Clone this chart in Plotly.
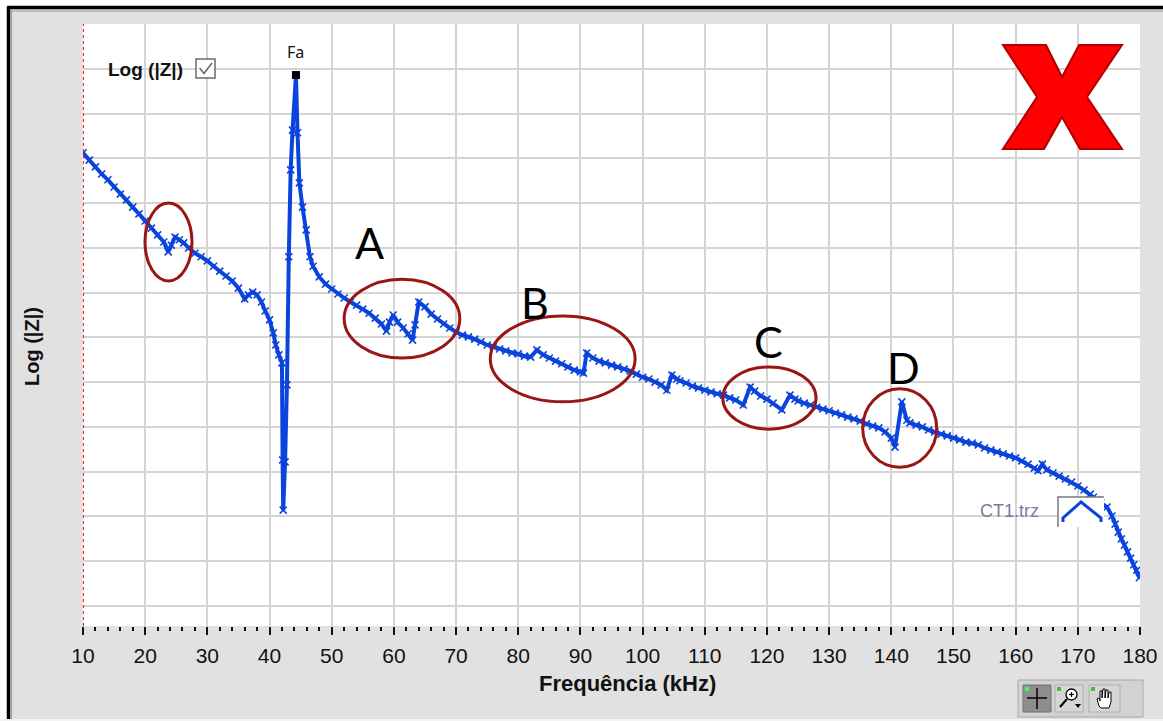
import plotly.graph_objects as go

# ---------------- data ----------------
freq_khz = [10.0, 11, 12, 13, 14, 15, 16, 17, 18, 19, 20, 21, 22, 23, 23.7, 24.2, 24.8, 25.5, 26.2,
            27, 28, 29, 30, 31, 32, 33, 34, 35, 36.0, 36.6, 37.3, 38.0, 38.7, 39.3, 40.0, 40.6, 41.0,
            41.5, 42.0, 42.1, 42.2, 42.5, 42.8, 43.1, 43.4, 43.7, 44.25, 44.5, 44.8, 45.3, 45.9, 46.5,
            47, 48, 49, 50, 51, 52, 53, 54, 55, 56, 57, 58, 58.8, 59.3, 59.9, 60.6, 61.5, 62.3, 63.0,
            63.4, 64.0, 65, 66, 67, 68, 69, 70, 71, 72, 73, 74, 75, 76, 77, 78, 79, 80, 81, 82, 83,
            84, 85, 86, 87, 88, 89, 90, 90.5, 91.0, 92, 93, 94, 95, 96, 97, 98, 99, 100, 101, 102,
            103, 103.9, 104.7, 105.5, 106, 107, 108, 109, 110, 111, 112, 113, 114, 115, 116.2, 117.3,
            118, 119, 120, 121, 122.4, 123.7, 124.5, 125, 126, 127, 128, 129, 130, 131, 132, 133,
            134, 135, 136, 137, 138, 139, 140, 140.6, 141.7, 142.5, 143, 144, 145, 146, 147, 148,
            149, 150, 151, 152, 153, 154, 155, 156, 157, 158, 159, 160, 161, 162, 163, 163.6, 164.3,
            165, 166, 167, 168, 169, 170, 171, 172, 172.5, 173, 173.7, 174.7, 175.5, 176, 176.5,
            177, 177.5, 178, 178.5, 179, 179.5, 179.9]

log_z = [10.12, 9.96, 9.81, 9.65, 9.52, 9.36, 9.20, 9.07, 8.91, 8.76, 8.60, 8.44, 8.29, 8.13, 7.91,
         8.06, 8.24, 8.18, 8.11, 8.00, 7.88, 7.80, 7.71, 7.59, 7.48, 7.37, 7.26, 7.10, 6.86, 6.95,
         7.01, 6.95, 6.79, 6.59, 6.39, 6.10, 5.83, 5.61, 5.43, 3.26, 2.14, 3.22, 4.94, 7.80, 9.74,
         10.63, 11.86, 10.57, 9.45, 8.91, 8.40, 7.80, 7.59, 7.35, 7.19, 7.08, 6.97, 6.88, 6.79,
         6.72, 6.63, 6.54, 6.43, 6.30, 6.14, 6.34, 6.50, 6.34, 6.21, 6.08, 5.94, 6.28, 6.79, 6.68,
         6.52, 6.41, 6.30, 6.21, 6.12, 6.05, 6.01, 5.96, 5.90, 5.83, 5.79, 5.74, 5.70, 5.65, 5.63,
         5.58, 5.56, 5.72, 5.61, 5.54, 5.47, 5.41, 5.34, 5.27, 5.23, 5.20, 5.65, 5.54, 5.47, 5.43,
         5.38, 5.34, 5.29, 5.25, 5.18, 5.11, 5.07, 5.00, 4.94, 4.82, 5.16, 5.07, 5.03, 4.98, 4.91,
         4.87, 4.82, 4.78, 4.74, 4.71, 4.65, 4.60, 4.49, 4.89, 4.80, 4.69, 4.62, 4.53, 4.38, 4.71,
         4.62, 4.58, 4.53, 4.49, 4.44, 4.40, 4.36, 4.31, 4.27, 4.22, 4.18, 4.13, 4.07, 4.02, 3.98,
         3.89, 3.75, 3.55, 4.56, 4.15, 4.09, 4.04, 4.00, 3.93, 3.89, 3.84, 3.80, 3.75, 3.71, 3.66,
         3.64, 3.60, 3.53, 3.48, 3.44, 3.40, 3.35, 3.31, 3.24, 3.17, 3.08, 3.02, 3.17, 3.04, 2.97,
         2.90, 2.84, 2.77, 2.68, 2.59, 2.50, 2.43, 2.37, 2.30, 2.21, 2.01, 1.83, 1.65, 1.50, 1.36,
         1.21, 1.07, 0.92, 0.80, 0.63]

x_ticks = list(range(10, 181, 10))
peak_label = "Fa"
series_name = "CT1.trz"
region_labels = ["A", "B", "C", "D"]
region_label_pos_khz = [56.0, 82.7, 120.2, 141.9]
region_label_pos_y = [8.11, 6.79, 5.90, 5.32]
# ellipses drawn around the anomalies (kHz range, log|Z| range)
ellipse_x = [(19.97, 27.53), (52.0, 70.6), (75.5, 98.8), (112.9, 127.9), (135.4, 147.3)]
ellipse_y = [(7.26, 9.00), (5.54, 7.30), (4.56, 6.48), (3.95, 5.34), (3.10, 4.85)]

# ---------------- layout geometry ----------------
W, H = 1163, 721
ML, MR, MT, MB = 83, 23, 24, 95
PW, PH = W - ML - MR, H - MT - MB
BLUE = "#0a44dc"
DARKRED = "#9a1515"
GRAY_BG = "#e1e1e1"


def P(x, y):
    """pixel -> paper coords"""
    return (x - ML) / PW, (H - MB - y) / PH


def path(pts, close=False):
    s = ""
    for i, (x, y) in enumerate(pts):
        a, b = P(x, y)
        s += ("M" if i == 0 else "L") + f"{a:.5f},{b:.5f} "
    return s + ("Z" if close else "")


def rect(x0, y0, x1, y1, **kw):
    a0, b0 = P(x0, y1)
    a1, b1 = P(x1, y0)
    d = dict(type="rect", xref="paper", yref="paper", x0=a0, y0=b0, x1=a1, y1=b1)
    d.update(kw)
    return d


fig = go.Figure()
fig.add_trace(go.Scatter(
    x=freq_khz, y=log_z, mode="lines+markers", name=series_name, showlegend=False,
    line=dict(color=BLUE, width=4),
    marker=dict(symbol="x-thin", size=7, line=dict(color=BLUE, width=1.6)),
    cliponaxis=True,
))
ipk = log_z.index(max(log_z))
fig.add_trace(go.Scatter(
    x=[freq_khz[ipk]], y=[log_z[ipk]], mode="markers", showlegend=False,
    marker=dict(symbol="square", size=8, color="black"), cliponaxis=False,
))

shapes = []
annotations = []

# white margin strips + outer black frame
shapes.append(rect(0, 0, 7, H, fillcolor="white", line=dict(width=0), layer="below"))
shapes.append(rect(0, 0, W, 6, fillcolor="white", line=dict(width=0), layer="below"))
shapes.append(rect(0, 719, W, H, fillcolor="#f4f4f4", line=dict(width=0), layer="below"))
for pts in ([(7, 7.5), (W, 7.5)], [(8.5, 7), (8.5, 719)]):
    shapes.append(dict(type="path", xref="paper", yref="paper", path=path(pts),
                       line=dict(color="black", width=3.5)))
for pts in ([(10, 11), (W, 11)], [(11.5, 10), (11.5, 719)]):
    shapes.append(dict(type="path", xref="paper", yref="paper", path=path(pts),
                       line=dict(color="#9a9a9a", width=1)))

# red dotted left axis line
shapes.append(dict(type="line", xref="x", yref="paper", x0=10, x1=10, y0=0, y1=1,
                   line=dict(color="#ff1a1a", width=2, dash="dot"), layer="above"))

# ellipses
for (x0, x1), (y0, y1) in zip(ellipse_x, ellipse_y):
    shapes.append(dict(type="circle", xref="x", yref="y", x0=x0, x1=x1, y0=y0, y1=y1,
                       line=dict(color=DARKRED, width=3), layer="above"))

# big red X
xpts = [(1003, 45), (1046, 45), (1062, 77), (1079, 45), (1122, 45), (1087, 97), (1122, 149),
        (1080, 149), (1062, 117), (1044, 149), (1003, 149), (1037, 97)]
shapes.append(dict(type="path", xref="paper", yref="paper", path=path(xpts, True),
                   fillcolor="#ff0000", line=dict(color="#b00000", width=2), layer="above"))

# checkbox near "Log (|Z|)"
shapes.append(rect(196, 59, 215, 78, fillcolor="white", line=dict(color="#6a6a6a", width=1.5)))
shapes.append(dict(type="path", xref="paper", yref="paper",
                   path=path([(199.5, 68), (204, 73.5), (212, 63)]),
                   line=dict(color="#6a6a6a", width=1.6)))

# legend box for CT1.trz
shapes.append(rect(1058, 497, 1104, 527, fillcolor="white", line=dict(width=0), layer="above"))
shapes.append(dict(type="path", xref="paper", yref="paper",
                   path=path([(1058, 527), (1058, 497), (1104, 497)]),
                   line=dict(color="#7a7a7a", width=1.5), layer="above"))
shapes.append(dict(type="path", xref="paper", yref="paper",
                   path=path([(1063, 522), (1063, 518), (1081, 502), (1101, 518), (1101, 522)]),
                   line=dict(color=BLUE, width=3), layer="above"))

# toolbar bottom right
shapes.append(rect(1018, 680, 1143, 717, fillcolor="#d2d2d2", line=dict(color="#a8a8a8", width=1)))
shapes.append(rect(1023, 685, 1051, 712, fillcolor="#8e8e8e", line=dict(color="#707070", width=1)))
shapes.append(rect(1055, 685, 1083, 712, fillcolor="#d6d6d6", line=dict(color="#b0b0b0", width=1)))
shapes.append(rect(1089, 685, 1120, 712, fillcolor="#d6d6d6", line=dict(color="#b0b0b0", width=1)))
shapes.append(dict(type="path", xref="paper", yref="paper",
                   path=path([(1027, 698), (1047, 698)]), line=dict(color="black", width=1.5)))
shapes.append(dict(type="path", xref="paper", yref="paper",
                   path=path([(1037, 688), (1037, 709)]), line=dict(color="black", width=1.5)))
shapes.append(rect(1025, 687, 1029, 691, fillcolor="#40ff40", line=dict(width=0)))
shapes.append(rect(1057, 687, 1061, 691, fillcolor="#40c040", line=dict(width=0)))
shapes.append(rect(1091, 687, 1095, 691, fillcolor="#40c040", line=dict(width=0)))
a0, b0 = P(1066, 700)
a1, b1 = P(1077, 689)
shapes.append(dict(type="circle", xref="paper", yref="paper", x0=a0, y0=b0, x1=a1, y1=b1,
                   fillcolor="white", line=dict(color="black", width=1.3)))
shapes.append(dict(type="path", xref="paper", yref="paper",
                   path=path([(1067, 699), (1060, 707)]), line=dict(color="black", width=2)))
shapes.append(dict(type="path", xref="paper", yref="paper",
                   path=path([(1069, 694.5), (1074, 694.5)]), line=dict(color="black", width=1.2)))
shapes.append(dict(type="path", xref="paper", yref="paper",
                   path=path([(1071.5, 692), (1071.5, 697)]), line=dict(color="black", width=1.2)))
shapes.append(dict(type="path", xref="paper", yref="paper",
                   path=path([(1075, 704), (1081, 704), (1078, 708)], True),
                   fillcolor="black", line=dict(width=0)))
hand = [(1099, 706), (1097, 699), (1099, 698), (1100, 701), (1100, 691), (1102, 691), (1102, 698),
        (1103, 689), (1105, 689), (1105, 698), (1106, 690), (1108, 690), (1108, 698), (1109, 692),
        (1111, 692), (1111, 702), (1109, 708), (1101, 708)]
shapes.append(dict(type="path", xref="paper", yref="paper", path=path(hand, True),
                   fillcolor="white", line=dict(color="black", width=1)))

# ---------------- texts ----------------
def ann_px(x, y, text, **kw):
    a, b = P(x, y)
    d = dict(x=a, y=b, xref="paper", yref="paper", text=text, showarrow=False,
             xanchor="center", yanchor="middle")
    d.update(kw)
    annotations.append(d)


ann_px(32, 347, "<b>Log (|Z|)</b>", textangle=-90,
       font=dict(family="Liberation Sans, Arial", size=20, color="#111"))
ann_px(627, 683, "<b>Frequência (kHz)</b>",
       font=dict(family="Liberation Sans, Arial", size=22, color="#111"))
ann_px(106, 70, "<b>Log (|Z|)</b>", xanchor="left",
       font=dict(family="Liberation Sans, Arial", size=19, color="#111"))
ann_px(1009, 511, series_name,
       font=dict(family="Liberation Sans, Arial", size=18, color="#7c7c98"))
annotations.append(dict(x=freq_khz[ipk], y=log_z[ipk], xref="x", yref="y", text=peak_label,
                        showarrow=False, yshift=23, xanchor="center", yanchor="middle",
                        font=dict(family="Noto Sans, Arial", size=16, color="#111")))
for lab, xk, yk in zip(region_labels, region_label_pos_khz, region_label_pos_y):
    annotations.append(dict(x=xk, y=yk, xref="x", yref="y", text=lab, showarrow=False,
                            xanchor="center", yanchor="middle",
                            font=dict(family="Lato, Noto Sans", size=43, color="black")))

fig.update_layout(
    width=W, height=H,
    margin=dict(l=ML, r=MR, t=MT, b=MB, pad=0),
    paper_bgcolor=GRAY_BG, plot_bgcolor="white",
    showlegend=False,
    shapes=shapes, annotations=annotations,
    xaxis=dict(range=[10, 180], tickvals=x_ticks, ticktext=[str(v) for v in x_ticks],
               showgrid=True, gridcolor="#d4d4d4", gridwidth=2, zeroline=False, showline=False,
               ticks="outside", ticklen=8, tickwidth=2, tickcolor="#111",
               ticklabelstandoff=3,
               minor=dict(dtick=2, tick0=10, ticks="outside", ticklen=4, tickwidth=1.5,
                          tickcolor="#111", showgrid=False),
               tickfont=dict(family="Liberation Sans, Arial", size=21, color="#111"),
               automargin=False, fixedrange=True),
    yaxis=dict(range=[-0.447, 13.0], tick0=0, dtick=1, showticklabels=False, ticks="",
               showgrid=True, gridcolor="#d4d4d4", gridwidth=2, zeroline=False, showline=False,
               automargin=False, fixedrange=True),
)

fig.write_html("out.html", config=dict(displayModeBar=False),
               post_script="document.body.style.margin='0';document.body.style.padding='0';"
                           "document.body.style.overflow='hidden';")
